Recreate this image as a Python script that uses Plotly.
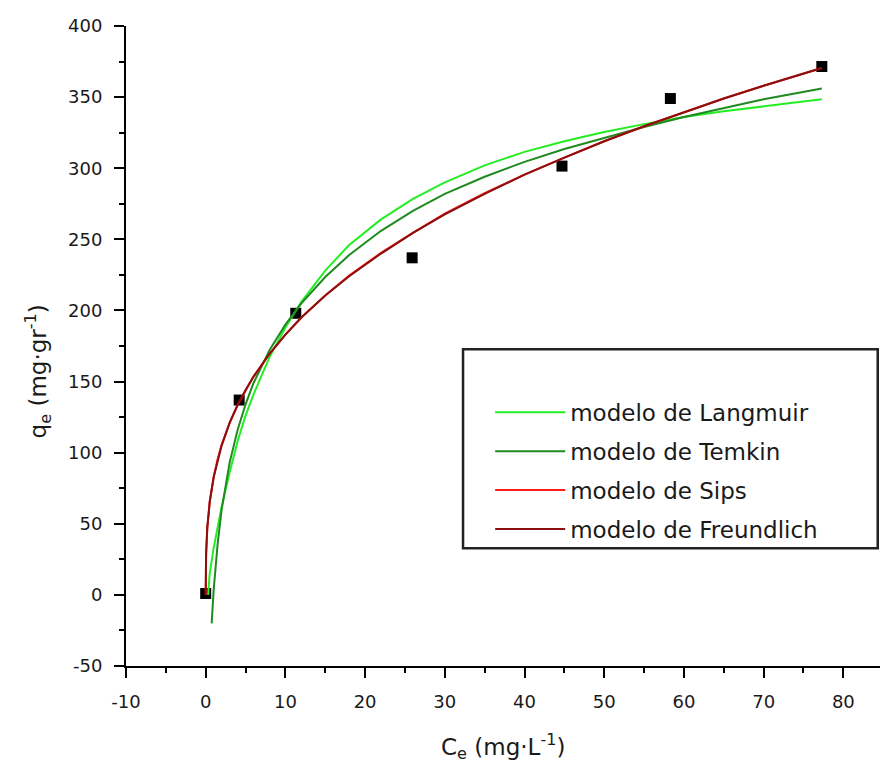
import plotly.graph_objects as go

# Experimental data
ce_exp = [0.0, 4.2, 11.3, 25.9, 44.7, 58.3, 77.3]
qe_exp = [1.0, 137.0, 198.0, 237.0, 301.5, 349.0, 371.5]

# Model curves
x_lang = [0.3, 0.5, 1, 1.5, 2, 3, 4, 5, 6, 8, 10, 12, 15, 18, 22, 26, 30, 35, 40, 45, 50, 55, 60, 65, 70, 77.3]
y_lang = [0, 15, 33, 48, 62, 86, 108, 126, 141, 167, 188, 206, 228, 246, 264, 278.5, 290, 302, 311.5, 319, 325.5, 331, 336, 340, 343.5, 348.5]

x_temk = [0.75, 1, 1.5, 2, 3, 4, 5, 6, 8, 10, 12, 15, 18, 22, 26, 30, 35, 40, 45, 50, 55, 60, 65, 70, 77.3]
y_temk = [-20, 3.5, 36, 60, 93, 116, 134, 149, 172, 190, 205, 223.5, 239, 256, 270, 282, 294, 304.5, 313.5, 321.5, 329, 336, 342.5, 348.5, 356]

x_sips = [0, 0.05, 0.2, 0.5, 1, 1.5, 2, 3, 4, 5, 6, 8, 10, 12, 15, 18, 22, 26, 30, 35, 40, 45, 50, 55, 60, 65, 70, 77.3]
y_sips = [0, 28, 47, 65.5, 83, 95.5, 105.5, 121, 133.5, 144, 153.5, 169.5, 183, 195, 210.5, 224.5, 240.5, 254.5, 268, 282.5, 295.5, 307.5, 319, 329.5, 339.5, 349, 358, 370.5]

x_freu = [0, 0.05, 0.2, 0.5, 1, 1.5, 2, 3, 4, 5, 6, 8, 10, 12, 15, 18, 22, 26, 30, 35, 40, 45, 50, 55, 60, 65, 70, 77.3]
y_freu = [0, 29, 47.5, 65, 82.7, 95, 105, 121, 133.5, 144, 153.5, 169.5, 183, 195, 210.5, 224, 240, 254.5, 267.5, 282, 295.5, 307.5, 319, 329.5, 339.5, 349, 358, 370.5]

x_ticks = [-10, 0, 10, 20, 30, 40, 50, 60, 70, 80]
x_ticklabels = ["-10", "0", "10", "20", "30", "40", "50", "60", "70", "80"]
y_ticks = [-50, 0, 50, 100, 150, 200, 250, 300, 350, 400]
y_ticklabels = ["-50", "0", "50", "100", "150", "200", "250", "300", "350", "400"]

names = ["modelo de Langmuir", "modelo de Temkin", "modelo de Sips", "modelo de Freundlich"]
colors = ["#22ee22", "#1f8a1f", "#ff1a1a", "#8b0f0f"]

FONT = "DejaVu Sans"

fig = go.Figure()
fig.add_trace(go.Scatter(x=ce_exp, y=qe_exp, mode="markers", showlegend=False,
                         marker=dict(symbol="square", size=11, color="black")))
for i, (xs, ys) in enumerate([(x_lang, y_lang), (x_temk, y_temk), (x_sips, y_sips), (x_freu, y_freu)]):
    fig.add_trace(go.Scatter(x=xs, y=ys, mode="lines", name=names[i], legendgroup=names[i],
                             line=dict(color=colors[i], width=2)))

axis_common = dict(showline=True, linecolor="black", linewidth=2, mirror=False,
                   showgrid=False, zeroline=False, ticks="outside", ticklen=10, tickwidth=2,
                   tickcolor="black", tickfont=dict(family=FONT, size=18, color="#1a1a1a"),
                   ticklabelstandoff=8)

fig.update_layout(
    width=880, height=771,
    margin=dict(l=126, r=0, t=26, b=105),
    plot_bgcolor="white", paper_bgcolor="white",
    xaxis=dict(range=[-10, 84.6], tickvals=x_ticks, ticktext=x_ticklabels,
               minor=dict(ticks="outside", ticklen=5, tickwidth=2, tickcolor="black", dtick=5, tick0=0),
               **axis_common),
    yaxis=dict(range=[-50, 400], tickvals=y_ticks, ticktext=y_ticklabels,
               minor=dict(ticks="outside", ticklen=5, tickwidth=2, tickcolor="black", dtick=25, tick0=0),
               **axis_common),
    legend=dict(x=0.483, y=0.43, xanchor="left", yanchor="top",
                bgcolor="rgba(0,0,0,0)", borderwidth=0,
                font=dict(family=FONT, size=23, color="#1a1a1a"),
                tracegroupgap=6, itemwidth=70),
    shapes=[dict(type="rect", xref="paper", yref="paper", x0=0.447, x1=0.997, y0=0.184, y1=0.495,
                 line=dict(color="#222", width=2.5), fillcolor="rgba(0,0,0,0)", layer="below")],
    annotations=[
        dict(text="C<sub>e</sub> (mg·L<sup>-1</sup>)", xref="paper", yref="paper", x=0.5, y=-0.125,
             xanchor="center", yanchor="middle", showarrow=False,
             font=dict(family=FONT, size=23, color="#1a1a1a")),
        dict(text="q<sub>e</sub> (mg·gr<sup>-1</sup>)", xref="paper", yref="paper", x=-0.117, y=0.46,
             xanchor="center", yanchor="middle", showarrow=False, textangle=-90,
             font=dict(family=FONT, size=23, color="#1a1a1a")),
    ],
)

fig.write_html("out.html", config={"displayModeBar": False},
               post_script="document.body.style.margin='0';document.body.style.overflow='hidden';")
